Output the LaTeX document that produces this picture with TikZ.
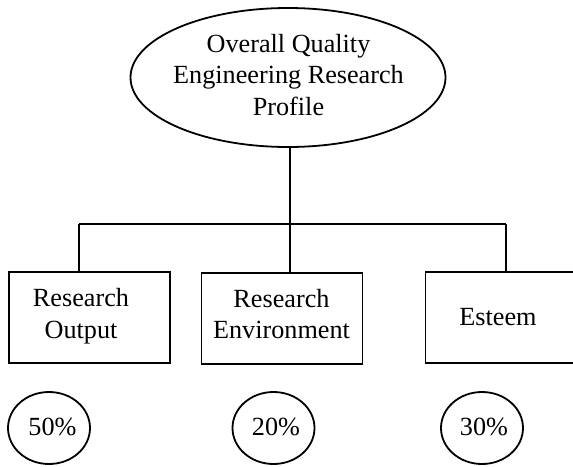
\documentclass[tikz,border=0pt]{standalone}
\usepackage{fontspec}
\setmainfont{Liberation Serif}
\usetikzlibrary{shapes.geometric}

\tikzset{
  outline/.style={draw=black, line width=0.9pt},
  topoval/.style={outline, ellipse, minimum width=157.5pt, minimum height=69.5pt, inner sep=0pt},
  areabox/.style={outline, rectangle, minimum width=80.5pt, minimum height=45.5pt, inner sep=0pt},
  weight/.style={outline, ellipse, minimum width=41pt, minimum height=36pt, inner sep=0pt},
  caption/.style={align=center, inner sep=0pt, font=\fontsize{13.1}{15.75}\selectfont},
  link/.style={draw=black, line width=0.9pt}
}

\begin{document}
\begin{tikzpicture}[x=0.5pt, y=-0.5pt]
  \useasboundingbox (0,0) rectangle (573,466);
  \clip (0,0) rectangle (573,466);

  % overall profile
  \node[topoval] (top) at (288,77.5) {};
  \node[caption] (toptext) at (288.5,75) {Overall Quality\\Engineering Research\\Profile};

  % three assessment areas
  \node[areabox] (b1) at (89.5,317.5) {};
  \node[areabox] (b2) at (282,318.5) {};
  \node[areabox] (b3) at (506,317.5) {};
  \node[caption] (t1) at (81,316.4) {Research\\Output};
  \node[caption] (t2) at (281.5,314) {Research\\Environment};
  \node[caption] (t3) at (498,317.3) {Esteem};

  % weightings
  \node[weight] (w1) at (49,428) {};
  \node[weight] (w2) at (273.5,428) {};
  \node[weight] (w3) at (482,428) {};
  \node[caption, anchor=base] (p1) at (52.5,435) {50\%};
  \node[caption, anchor=base] (p2) at (276,435) {20\%};
  \node[caption, anchor=base] (p3) at (484,435) {30\%};

  % tree connectors
  \coordinate (j1) at (79,224);
  \coordinate (j2) at (290,224);
  \coordinate (j3) at (505.7,224);
  \draw[link] (j2 |- top.south) -- (j2);
  \draw[link] (j1) -- (j3);
  \draw[link] (j1) -- (j1 |- b1.north);
  \draw[link] (j2) -- (j2 |- b2.north);
  \draw[link] (j3) -- (j3 |- b3.north);
\end{tikzpicture}
\end{document}
